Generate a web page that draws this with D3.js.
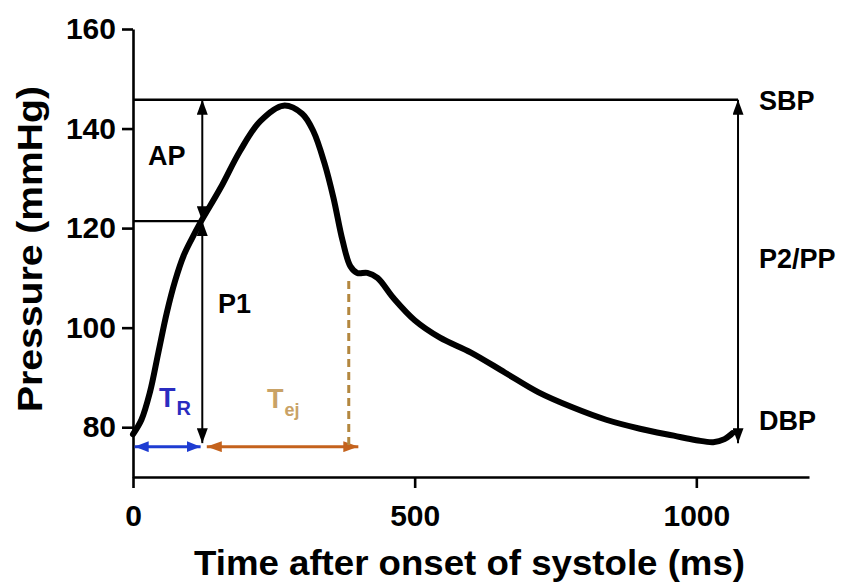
<!DOCTYPE html>
<html>
<head>
<meta charset="utf-8">
<script src="https://cdn.jsdelivr.net/npm/d3@7"></script>
<style>
  body { margin: 0; background: #fff; }
  svg text { font-family: "Liberation Sans", Arial, sans-serif; font-weight: bold; }
</style>
</head>
<body>
<svg width="847" height="585"></svg>
<script>
// pressure waveform
const timeMs = [0, 15, 30, 45, 60, 75, 90, 105, 120, 155, 190, 226, 267, 300, 320, 340, 356, 372, 386, 398, 416, 434, 462, 500, 545, 600, 660, 720, 780, 840, 900, 960, 1000, 1030, 1050, 1064];
const pressure = [78.6, 81.5, 87, 95, 103, 109.5, 114.5, 118, 121.2, 128, 135.5, 141.5, 144.6, 143, 139.5, 133, 126, 117.5, 112.3, 111, 111, 110, 106, 101.5, 98, 95, 91, 87, 84, 81.5, 79.7, 78.3, 77.4, 77, 77.6, 78.8];

const xTicks = [0, 500, 1000];
const yTicks = [80, 100, 120, 140, 160];

// annotation levels (mmHg) and times (ms)
const SBP = 145.8;
const P1 = 121.4;
const DBP = 76.8;
const tInflection = 123;
const tPP = 1074;
const tR = [3, 120];
const tEj = [131, 400];
const tEjEnd = 383;
const arrowLevel = 76.1;

const svg = d3.select("svg");

const x = d3.scaleLinear().domain([0, 1200]).range([133, 809]);
const y = d3.scaleLinear().domain([70, 160]).range([477, 29]);

// arrow heads
const defs = svg.append("defs");
const addMarker = (id, color, len, wid) => {
  defs.append("marker")
    .attr("id", id)
    .attr("viewBox", `0 0 ${len} ${wid}`)
    .attr("refX", len)
    .attr("refY", wid / 2)
    .attr("markerWidth", len)
    .attr("markerHeight", wid)
    .attr("markerUnits", "userSpaceOnUse")
    .attr("orient", "auto-start-reverse")
    .append("path")
    .attr("d", `M0,0L${len},${wid / 2}L0,${wid}z`)
    .attr("fill", color);
};
addMarker("arr-black", "#000", 15, 11);
addMarker("arr-blue", "#1e3cd2", 14, 11);
addMarker("arr-orange", "#c4621c", 15, 11);

// axes
const xAxisG = svg.append("g")
  .attr("transform", `translate(0,${y(70)})`)
  .call(d3.axisBottom(x).tickValues(xTicks).tickFormat(d3.format("d"))
    .tickSize(11).tickSizeOuter(0).tickPadding(17));

const yAxisG = svg.append("g")
  .attr("transform", `translate(${x(0)},0)`)
  .call(d3.axisLeft(y).tickValues(yTicks).tickSize(11).tickSizeOuter(0).tickPadding(6));

[xAxisG, yAxisG].forEach((g) => {
  g.selectAll("path, line").attr("stroke", "#000").attr("stroke-width", 2.6);
  g.selectAll("text").attr("font-size", 30).attr("fill", "#000");
});

// axis titles
svg.append("text")
  .attr("x", 194)
  .attr("y", 575)
  .attr("font-size", 35)
  .attr("textLength", 551)
  .attr("lengthAdjust", "spacingAndGlyphs")
  .text("Time after onset of systole (ms)");

svg.append("text")
  .attr("transform", "translate(42,412) rotate(-90)")
  .attr("font-size", 35)
  .attr("textLength", 326)
  .attr("lengthAdjust", "spacingAndGlyphs")
  .text("Pressure (mmHg)");

// reference lines and arrows
const seg = (x1, y1, x2, y2) => svg.append("line")
  .attr("x1", x1).attr("y1", y1).attr("x2", x2).attr("y2", y2)
  .attr("stroke", "#000").attr("stroke-width", 2);

seg(x(0), y(SBP), x(tPP), y(SBP)).attr("stroke-width", 2.6);
seg(x(0), y(P1), x(tInflection), y(P1)).attr("stroke-width", 2.3);

seg(x(tInflection), y(SBP), x(tInflection), y(P1))
  .attr("marker-start", "url(#arr-black)").attr("marker-end", "url(#arr-black)");
seg(x(tInflection), y(P1), x(tInflection), y(DBP))
  .attr("marker-start", "url(#arr-black)").attr("marker-end", "url(#arr-black)");
seg(x(tPP), y(SBP), x(tPP), y(DBP))
  .attr("marker-start", "url(#arr-black)").attr("marker-end", "url(#arr-black)");

seg(x(tR[0]), y(arrowLevel), x(tR[1]), y(arrowLevel))
  .attr("stroke", "#1e3cd2").attr("stroke-width", 3)
  .attr("marker-start", "url(#arr-blue)").attr("marker-end", "url(#arr-blue)");

seg(x(tEj[0]), y(arrowLevel), x(tEj[1]), y(arrowLevel))
  .attr("stroke", "#c4621c").attr("stroke-width", 3)
  .attr("marker-start", "url(#arr-orange)").attr("marker-end", "url(#arr-orange)");

seg(x(tEjEnd), y(109.4), x(tEjEnd), y(arrowLevel))
  .attr("stroke", "#b3873f").attr("stroke-width", 3)
  .attr("stroke-dasharray", "8,5");

// the waveform
const line = d3.line()
  .x((d) => x(d[0]))
  .y((d) => y(d[1]))
  .curve(d3.curveCatmullRom.alpha(0.5));

svg.append("path")
  .datum(d3.zip(timeMs, pressure))
  .attr("d", line)
  .attr("fill", "none")
  .attr("stroke", "#000")
  .attr("stroke-width", 6)
  .attr("stroke-linejoin", "round")
  .attr("stroke-linecap", "round");

// labels
const label = (tx, ty, txt, size = 27) => svg.append("text")
  .attr("x", tx).attr("y", ty).attr("font-size", size).text(txt);

label(148, 165, "AP");
label(218, 313, "P1");
label(759, 110, "SBP");
label(759, 268, "P2/PP");
label(759, 430, "DBP");

const tr = svg.append("text").attr("x", 159).attr("y", 407).attr("font-size", 27).attr("fill", "#2a2cc0");
tr.append("tspan").text("T");
tr.append("tspan").attr("dy", 8).attr("dx", 1).attr("font-size", 20).text("R");

const tej = svg.append("text").attr("x", 267).attr("y", 408).attr("font-size", 27).attr("fill", "#c9a266");
tej.append("tspan").text("T");
tej.append("tspan").attr("dy", 8).attr("dx", 1).attr("font-size", 18).text("ej");
</script>
</body>
</html>
